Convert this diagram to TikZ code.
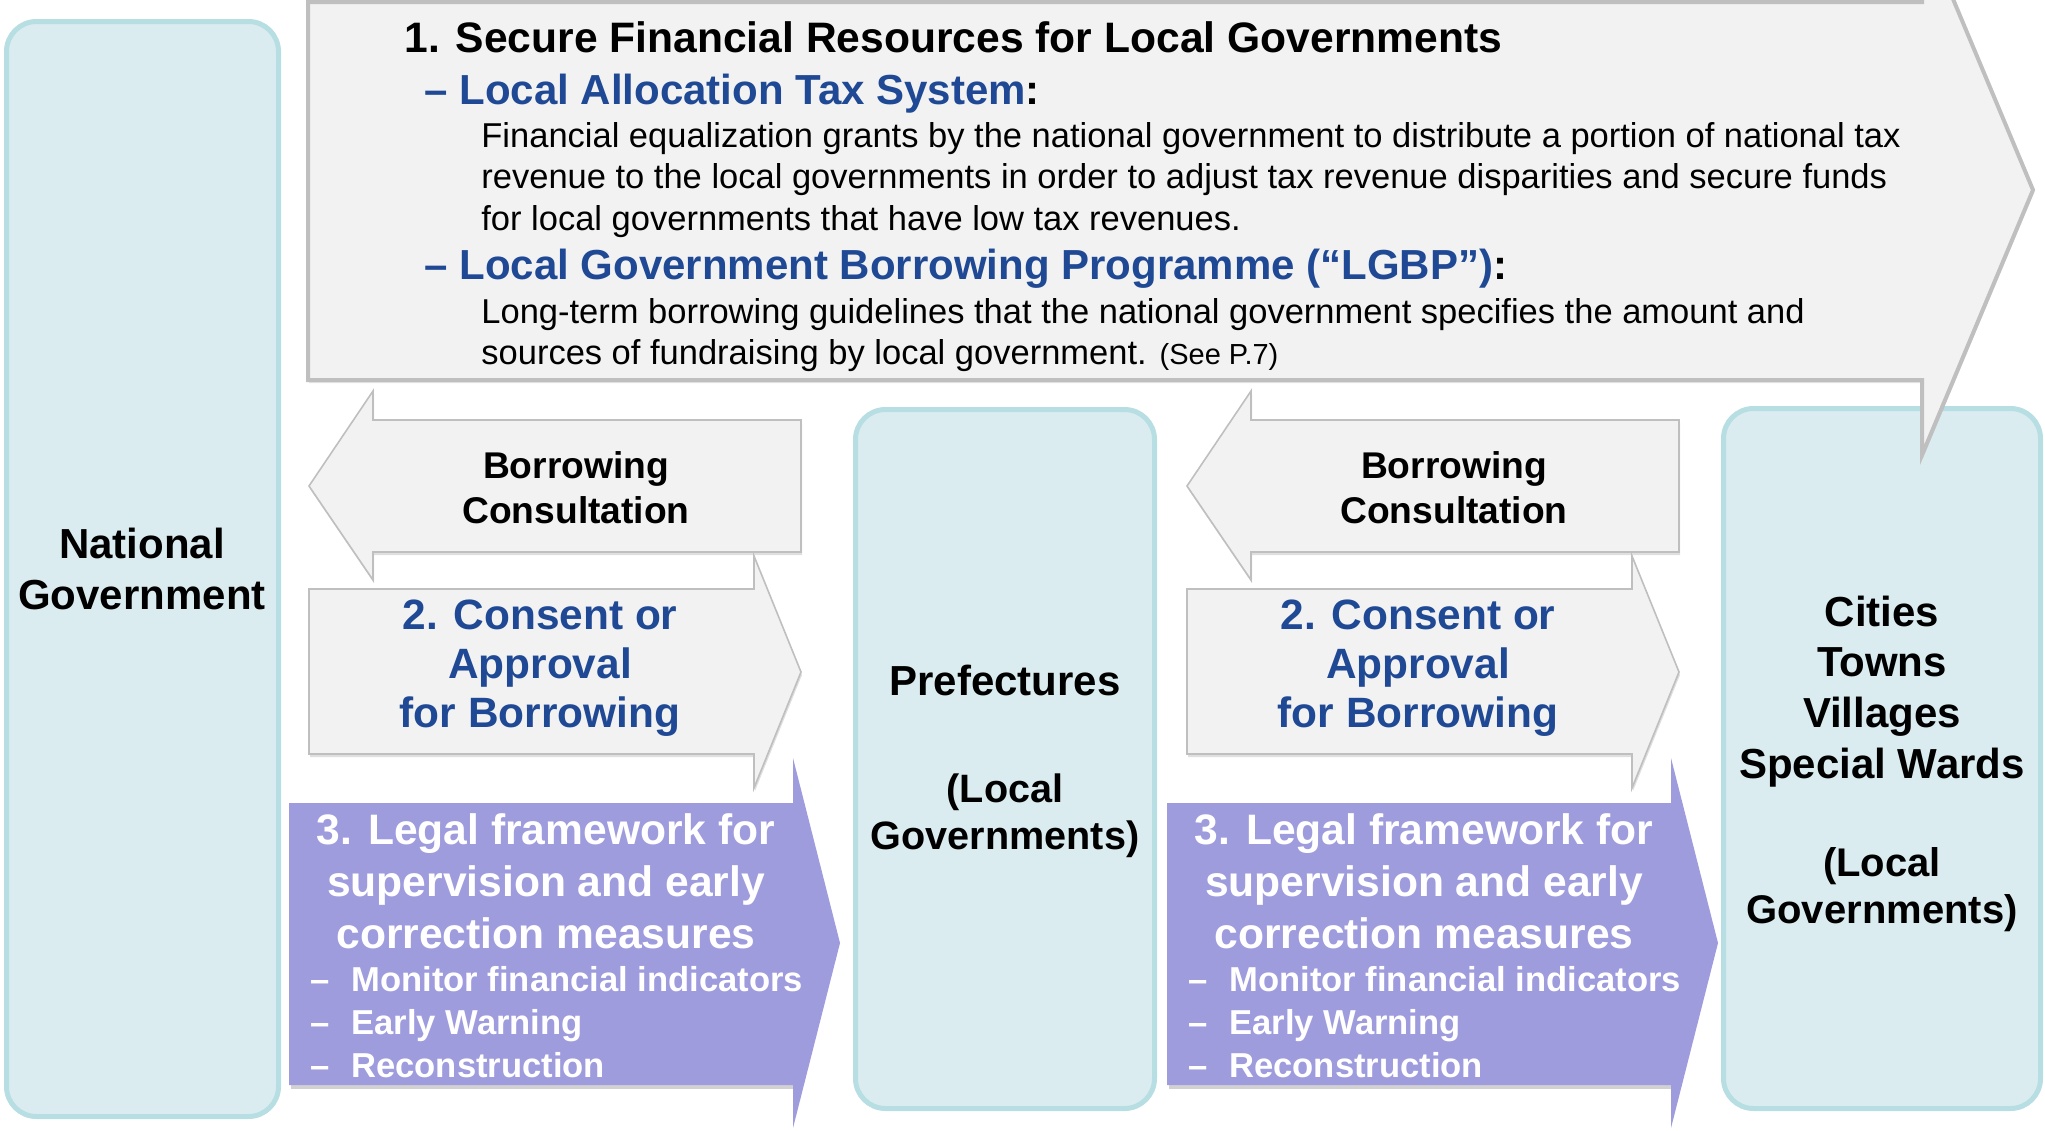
\documentclass[tikz,border=0pt]{standalone}
\usepackage{fontspec}
\setmainfont{Liberation Sans}
\usetikzlibrary{shadows}

\definecolor{boxfill}{RGB}{218,236,239}
\definecolor{boxline}{RGB}{183,222,226}
\definecolor{arrowfill}{RGB}{242,242,242}
\definecolor{arrowline}{RGB}{191,191,191}
\definecolor{legalfill}{RGB}{159,156,222}
\definecolor{headblue}{RGB}{31,73,148}

\tikzset{
  govbox/.style={draw=boxline, fill=boxfill, line width=2.5pt, rounded corners=15pt},
  greyarrow/.style={draw=arrowline, fill=arrowfill, line width=0.8pt,
    drop shadow={opacity=0.25, shadow xshift=0.5pt, shadow yshift=-1.5pt}},
  bigarrow/.style={draw=arrowline, fill=arrowfill, line width=2pt,
    drop shadow={opacity=0.2, shadow xshift=0.5pt, shadow yshift=-1.5pt}},
  legalarrow/.style={fill=legalfill},
  legalshadow/.style={fill=black, opacity=0.18},
  plaintext/.style={inner sep=0pt, anchor=base, align=center},
  govtext/.style={plaintext, font=\bfseries\fontsize{21}{25.5}\selectfont},
}

\begin{document}
\begin{tikzpicture}[x=0.5pt, y=-0.5pt]
  \clip (0,0) rectangle (2045,1130);

  % Columns: national, prefectural and municipal level
  \draw[govbox] (6.5,21.5) rectangle (278.5,1116.5);
  \draw[govbox] (855.5,409.5) rectangle (1154.5,1108.5);
  \draw[govbox] (1723.5,408.5) rectangle (2040.5,1108.5);

  % (multi-line nodes sit on the baseline of their last line)
  \node[govtext] (natgov) at (142,609) {National\\Government};
  \node[govtext, font=\bfseries\fontsize{19.8}{23.5}\selectfont] (pref) at (1005,849)
    {{\fontsize{21}{23.5}\selectfont Prefectures}\\[30pt](Local\\Governments)};
  \node[govtext, font=\bfseries\fontsize{21}{25.3}\selectfont] (cities) at (1882,923)
    {Cities\\Towns\\Villages\\Special Wards\\[23.7pt]{\fontsize{20}{23.5}\selectfont(Local}\\[-1.8pt]{\fontsize{20}{23.5}\selectfont Governments)}};

  % Arrows between the levels, same on both sides
  \foreach \dx/\side in {0/left, 878/right} {
    \begin{scope}[xshift=\dx*0.5pt]
      \draw[greyarrow] (801,420) -- (373,420) -- (373,391) -- (309,486) -- (373,580)
        -- (373,552) -- (801,552) -- cycle;
      \node[plaintext, font=\bfseries\fontsize{18.6}{22.5}\selectfont] (consult-\side) at (576,523)
        {Borrowing\\Consultation};

      \draw[greyarrow] (309,589) -- (754,589) -- (754,556) -- (801,672) -- (754,788)
        -- (754,754) -- (309,754) -- cycle;
      \node[plaintext, text=headblue, font=\bfseries\fontsize{21.2}{24.3}\selectfont] (consent-\side) at (540,727)
        {2. Consent or\\Approval\\for Borrowing};

      % shadow only under the body
      \fill[legalshadow] (291,1085) rectangle (793,1089);
      \fill[legalarrow] (289,803) -- (793,803) -- (793,758) -- (840,943) -- (793,1128)
        -- (793,1085) -- (289,1085) -- cycle;
      \node[plaintext, text=white, font=\bfseries\fontsize{21.3}{25.8}\selectfont] (legal-\side) at (546,948)
        {3. Legal framework for\\supervision and early\\correction measures};
      \node[plaintext, anchor=base west, align=left, text=white, font=\bfseries\fontsize{17.3}{21.5}\selectfont]
        (measures-\side) at (310,1077)
        {\makebox[20.5pt][l]{–}Monitor financial indicators\\
         \makebox[20.5pt][l]{–}Early Warning\\
         \makebox[20.5pt][l]{–}Reconstruction};
    \end{scope}
  }

  % Financial resources arrow across the top
  \draw[bigarrow] (308,2) -- (1922,2) -- (1922,-75) -- (2033,190) -- (1922,455)
    -- (1922,380) -- (308,380) -- cycle;

  \node[plaintext, anchor=base west, font=\bfseries\fontsize{21.3}{25}\selectfont] (title) at (404,52)
    {1. Secure Financial Resources for Local Governments};
  \node[plaintext, anchor=base west, font=\bfseries\fontsize{21}{25}\selectfont] (lat) at (424,104)
    {\textcolor{headblue}{\makebox[17.5pt][l]{–}Local Allocation Tax System}:};
  \node[plaintext, anchor=base west, align=left, font=\fontsize{17.25}{20.75}\selectfont] (lat-text) at (481,230)
    {Financial equalization grants by the national government to distribute a portion of national tax\\
     revenue to the local governments in order to adjust tax revenue disparities and secure funds\\
     for local governments that have low tax revenues.};
  \node[plaintext, anchor=base west, font=\bfseries\fontsize{21}{25}\selectfont] (lgbp) at (424,279)
    {\textcolor{headblue}{\makebox[17.5pt][l]{–}Local Government Borrowing Programme (“LGBP”)}:};
  \node[plaintext, anchor=base west, align=left, font=\fontsize{17.25}{20.5}\selectfont] (lgbp-text) at (481,364)
    {Long-term borrowing guidelines that the national government specifies the amount and\\
     sources of fundraising by local government. {\fontsize{14.5}{17}\selectfont(See P.7)}};
\end{tikzpicture}
\end{document}
